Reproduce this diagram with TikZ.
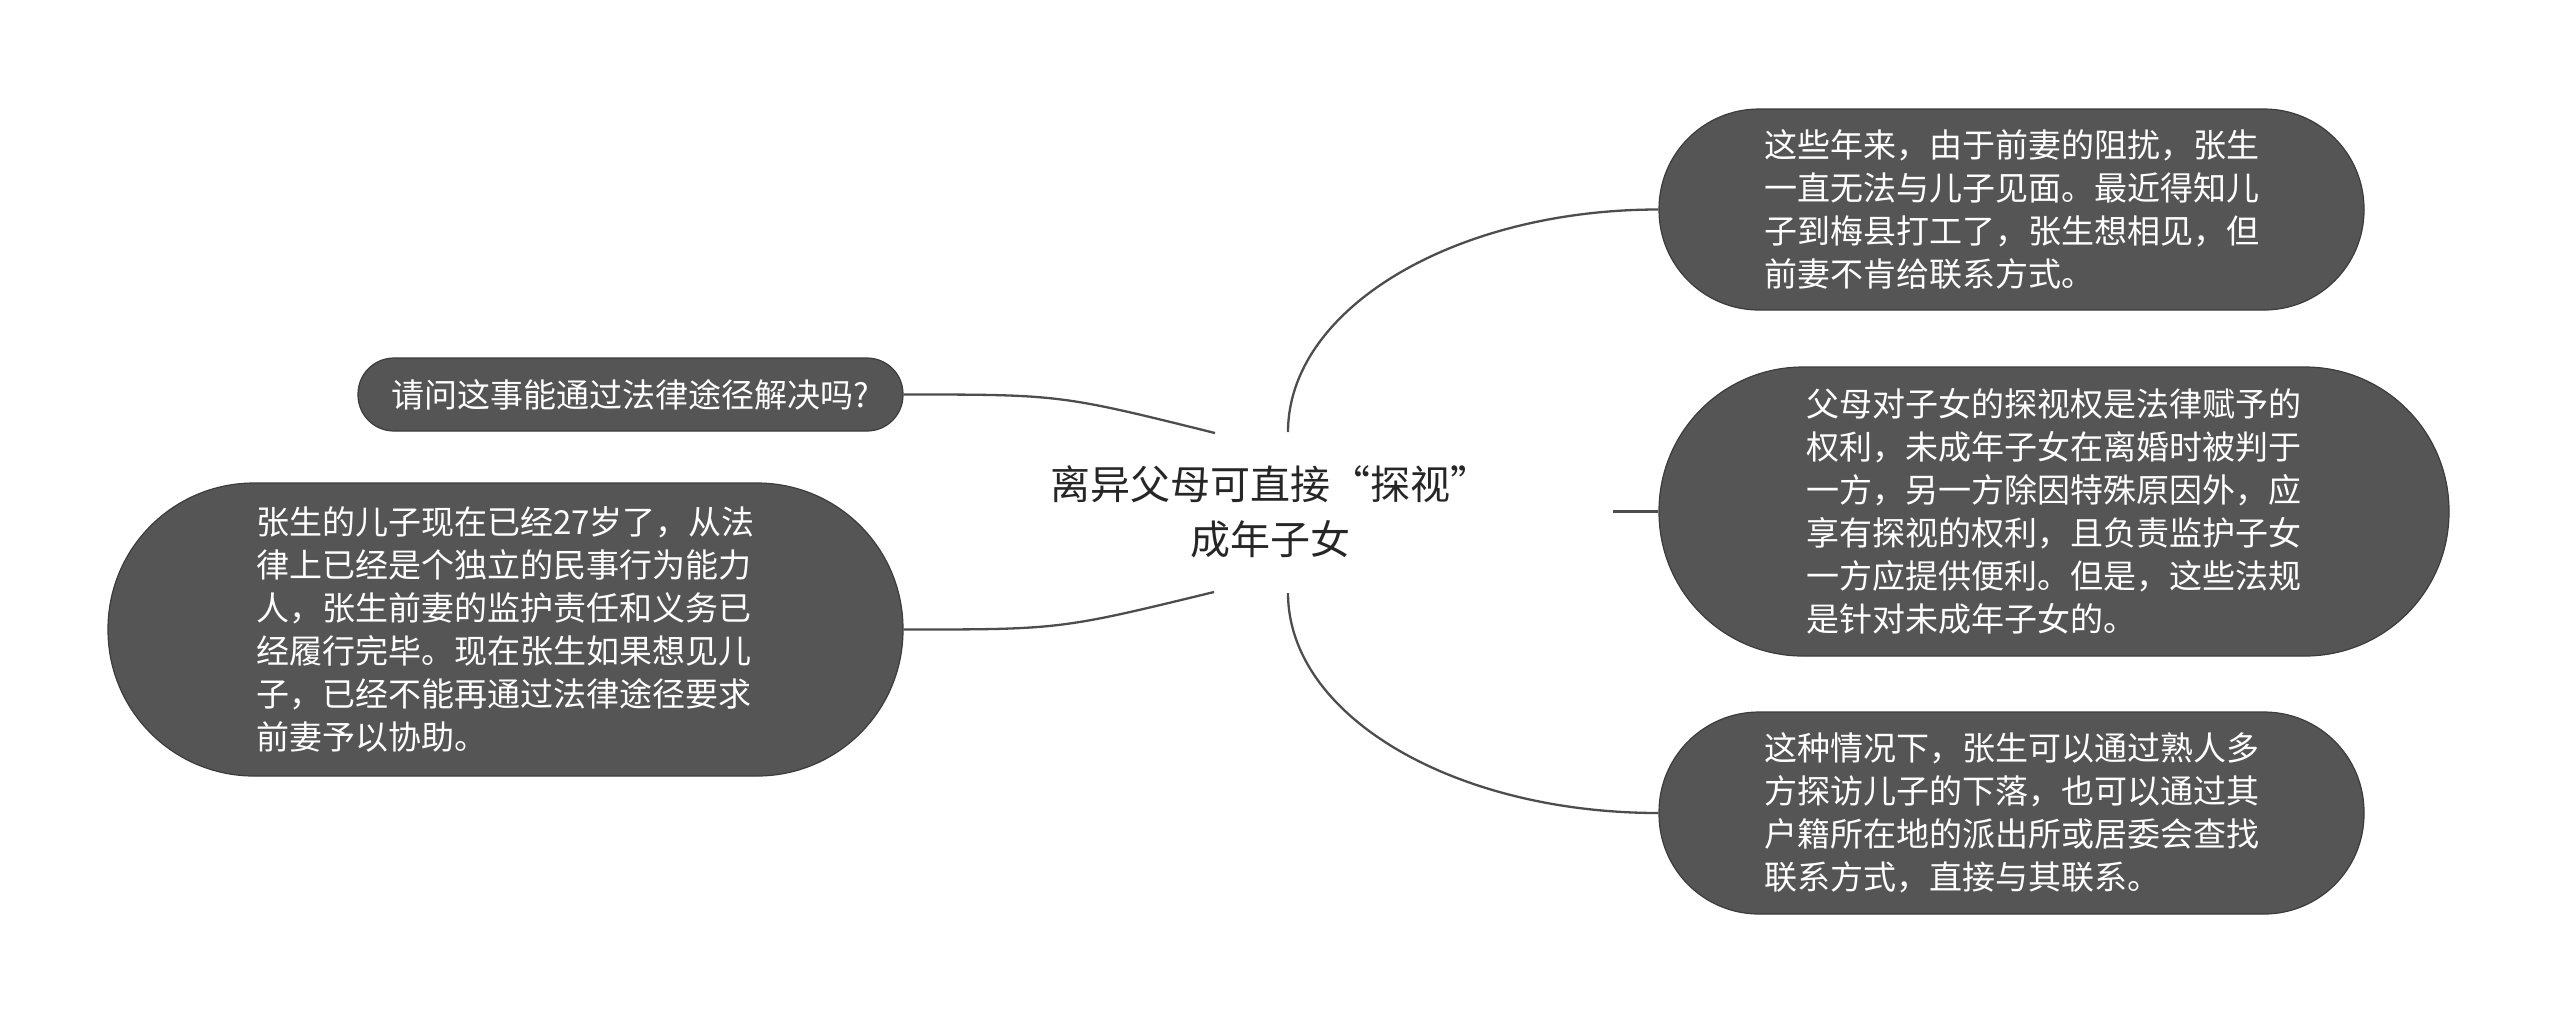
\documentclass[tikz,border=0pt]{standalone}
\usepackage{fontspec}
\setmainfont{Noto Sans CJK SC}
\definecolor{leafgray}{HTML}{555555}
\definecolor{leafedge}{HTML}{3C3C3C}
\definecolor{linkgray}{HTML}{4D4D4D}
\begin{document}
\begin{tikzpicture}[x=0.5pt,y=-0.5pt,
  leaf/.style={fill=leafgray, draw=leafedge, line width=0.6pt, text=white,
    font=\fontsize{16.5}{21.5}\selectfont, align=left, inner sep=0pt},
  link/.style={draw=linkgray, line width=1.15pt},
  rootstyle/.style={font=\fontsize{20}{27.5}\selectfont, align=center, text=black!85, inner sep=0pt}]
\useasboundingbox (0,0) rectangle (2560,1025);

\node[rootstyle] (root) at (1270,512) {离异父母可直接“探视”\\成年子女};

\node[leaf, minimum width=352.5pt, minimum height=100.5pt, rounded corners=50pt] (A) at (2011.5,209.5)
  {这些年来，由于前妻的阻扰，张生\\一直无法与儿子见面。最近得知儿\\子到梅县打工了，张生想相见，但\\前妻不肯给联系方式。};

\node[leaf, minimum width=395pt, minimum height=144.5pt, rounded corners=72pt] (B) at (2054,511.5)
  {父母对子女的探视权是法律赋予的\\权利，未成年子女在离婚时被判于\\一方，另一方除因特殊原因外，应\\享有探视的权利，且负责监护子女\\一方应提供便利。但是，这些法规\\是针对未成年子女的。};

\node[leaf, minimum width=352.5pt, minimum height=101pt, rounded corners=50pt] (C) at (2011.5,813)
  {这种情况下，张生可以通过熟人多\\方探访儿子的下落，也可以通过其\\户籍所在地的派出所或居委会查找\\联系方式，直接与其联系。};

\node[leaf, minimum width=272.5pt, minimum height=36.5pt, rounded corners=18pt] (D) at (630.5,394.5)
  {请问这事能通过法律途径解决吗?};

\node[leaf, minimum width=397.5pt, minimum height=146.5pt, rounded corners=73pt] (E) at (505.5,629.5)
  {张生的儿子现在已经27岁了，从法\\律上已经是个独立的民事行为能力\\人，张生前妻的监护责任和义务已\\经履行完毕。现在张生如果想见儿\\子，已经不能再通过法律途径要求\\前妻予以协助。};

\coordinate (cA) at (1288,432);
\coordinate (cB) at (1613,511.5);
\coordinate (cC) at (1288,593);
\coordinate (cD) at (1215,433);
\coordinate (cE) at (1214,592);

\draw[link] (cA) .. controls (1288,309) and (1454,209.5) .. (A.west);
\draw[link] (cB) -- (B.west);
\draw[link] (cC) .. controls (1288,716) and (1454,813) .. (C.west);
\draw[link] (cD) .. controls (1060,394.5) .. (D.east);
\draw[link] (cE) .. controls (1060,629.5) .. (E.east);
\end{tikzpicture}
\end{document}
